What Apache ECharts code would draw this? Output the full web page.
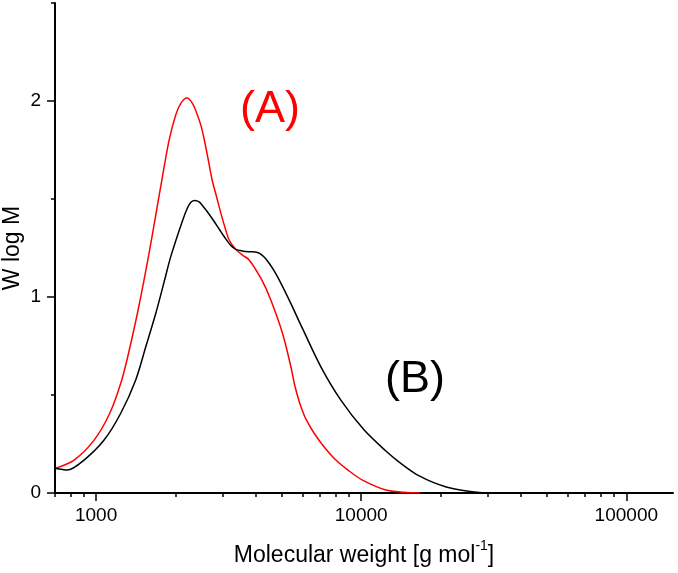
<!DOCTYPE html>
<html>
<head>
<meta charset="utf-8">
<script src="https://cdn.jsdelivr.net/npm/echarts@6/dist/echarts.min.js"></script>
<style>html,body{margin:0;padding:0;background:#fff}#c{width:678px;height:573px}</style>
</head>
<body>
<div id="c"></div>
<script>
// Sample A (red): [molecular weight, W log M]
const seriesA = [
  [700, 0.125], [826, 0.168], [983, 0.27], [1126, 0.407], [1250, 0.577],
  [1343, 0.746], [1432, 0.917], [1517, 1.087], [1617, 1.29], [1744, 1.546],
  [1886, 1.80], [1997, 1.929], [2088, 1.988], [2198, 2.015], [2309, 1.988],
  [2411, 1.929], [2490, 1.872], [2556, 1.806], [2646, 1.704], [2740, 1.597],
  [2849, 1.51], [2963, 1.423], [3068, 1.352], [3177, 1.291], [3366, 1.243],
  [3565, 1.214], [3779, 1.189], [4217, 1.087], [4561, 0.985], [5049, 0.815],
  [5431, 0.644], [5611, 0.551], [5799, 0.48], [5987, 0.423], [6181, 0.378],
  [6646, 0.305], [7252, 0.235], [8027, 0.168], [9010, 0.112], [10113, 0.066],
  [12396, 0.0153], [14530, 0.0036], [16700, 0.0]
];
// Sample B (black)
const seriesB = [
  [700, 0.126], [779, 0.117], [901, 0.168], [1072, 0.27], [1239, 0.407],
  [1411, 0.577], [1540, 0.746], [1680, 0.917], [1806, 1.077], [1913, 1.206],
  [2117, 1.388], [2211, 1.454], [2283, 1.485], [2363, 1.492], [2447, 1.485],
  [2518, 1.467], [2624, 1.436], [2764, 1.393], [2912, 1.347], [3068, 1.301],
  [3223, 1.263], [3366, 1.243], [3556, 1.235], [3779, 1.231], [3981, 1.23],
  [4122, 1.224], [4305, 1.204], [4496, 1.172], [4696, 1.133], [4905, 1.087],
  [5348, 0.985], [6041, 0.832], [7046, 0.644], [8381, 0.474], [10264, 0.321],
  [12396, 0.214], [13900, 0.158], [16550, 0.087], [20930, 0.031], [27870, 0.0026],
  [33000, 0.0]
];
const xMajorTicks = [1000, 10000, 100000];
const xMinorTicks = [700, 800, 900, 2000, 3000, 4000, 5000, 6000, 7000, 8000, 9000,
  20000, 30000, 40000, 50000, 60000, 70000, 80000, 90000];
const yMajorTicks = [0, 1, 2];
const yMinorTicks = [0.5, 1.5, 2.5];
const xRange = [700, 150000];
const yRange = [0, 2.5];
const labelA = '(A)';
const labelB = '(B)';

const FONT = 'Liberation Sans, Arial, sans-serif';
const chart = echarts.init(document.getElementById('c'), null, {renderer: 'canvas'});
const axisLineStyle = {color: '#000', width: 2};
chart.setOption({
  animation: false,
  backgroundColor: '#fff',
  grid: {left: 55, right: 5, top: 3, bottom: 80, containLabel: false, outerBoundsMode: 'none'},
  xAxis: [{
    type: 'log', min: xRange[0], max: xRange[1], logBase: 10,
    name: '{a|Molecular weight [g mol}{s|-1}{a|]}',
    nameLocation: 'middle', nameGap: 46, nameMoveOverlap: false,
    nameTextStyle: {
      fontFamily: FONT, color: '#000',
      rich: {
        a: {fontSize: 23, fontFamily: FONT, color: '#000', lineHeight: 28, verticalAlign: 'bottom'},
        s: {fontSize: 14, fontFamily: FONT, color: '#000', lineHeight: 28, verticalAlign: 'top'}
      }
    },
    axisLine: {show: true, onZero: false, lineStyle: axisLineStyle},
    axisTick: {show: true, customValues: xMajorTicks, length: 8, lineStyle: {color: '#000', width: 1.5}},
    axisLabel: {customValues: xMajorTicks, formatter: v => String(Math.round(v)),
      fontSize: 19, fontFamily: FONT, color: '#000', margin: 13},
    splitLine: {show: false}, minorTick: {show: false}
  }, {
    type: 'log', min: xRange[0], max: xRange[1], logBase: 10, position: 'bottom',
    axisLine: {show: false, onZero: false},
    axisTick: {show: true, customValues: xMinorTicks, length: 4, lineStyle: {color: '#000', width: 1.5}},
    axisLabel: {show: false}, splitLine: {show: false}
  }],
  yAxis: [{
    type: 'value', min: yRange[0], max: yRange[1],
    name: 'W log M', nameLocation: 'middle', nameGap: 31, nameMoveOverlap: false,
    nameTextStyle: {fontSize: 23, fontFamily: FONT, color: '#000'},
    axisLine: {show: true, onZero: false, lineStyle: axisLineStyle},
    axisTick: {show: true, customValues: yMajorTicks, length: 8, lineStyle: {color: '#000', width: 1.5}},
    axisLabel: {customValues: yMajorTicks, fontSize: 19, fontFamily: FONT, color: '#000', margin: 14},
    splitLine: {show: false}
  }, {
    type: 'value', min: yRange[0], max: yRange[1], position: 'left',
    axisLine: {show: false, onZero: false},
    axisTick: {show: true, customValues: yMinorTicks, length: 4, lineStyle: {color: '#000', width: 1.5}},
    axisLabel: {show: false}, splitLine: {show: false}
  }],
  series: [{
    name: 'A', type: 'line', data: seriesA, xAxisIndex: 0, yAxisIndex: 0,
    smooth: 0.3, showSymbol: false, symbol: 'none',
    lineStyle: {color: '#ff0000', width: 1.5}, itemStyle: {color: '#ff0000'}
  }, {
    name: 'B', type: 'line', data: seriesB, xAxisIndex: 0, yAxisIndex: 0,
    smooth: 0.3, showSymbol: false, symbol: 'none',
    lineStyle: {color: '#000', width: 1.5}, itemStyle: {color: '#000'}
  }],
  graphic: [{
    type: 'text', left: 240, top: 87,
    style: {text: labelA, fontSize: 45, fontFamily: FONT, fill: '#ff0000'}
  }, {
    type: 'text', left: 385, top: 357,
    style: {text: labelB, fontSize: 45, fontFamily: FONT, fill: '#000'}
  }]
});
</script>
</body>
</html>
